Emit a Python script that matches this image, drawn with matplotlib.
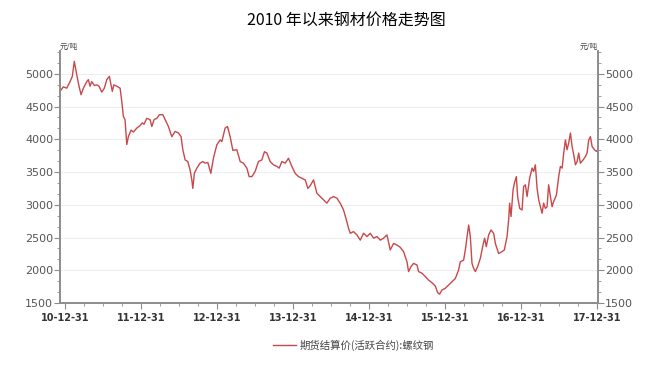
import matplotlib
matplotlib.use("Agg")
import matplotlib.pyplot as plt
import matplotlib.dates as mdates
from matplotlib.ticker import MultipleLocator, AutoMinorLocator, FixedLocator
import numpy as np
import pandas as pd

# time as fractional years counted from 2010-12-31 (= 2011.0)
t = [2010.934, 2010.978, 2011.022, 2011.066, 2011.096, 2011.122, 2011.154, 2011.184,
     2011.211, 2011.241, 2011.286, 2011.307, 2011.329, 2011.351, 2011.386, 2011.417,
     2011.447, 2011.483, 2011.517, 2011.549, 2011.583, 2011.605, 2011.622, 2011.641,
     2011.680, 2011.724, 2011.746, 2011.767, 2011.789, 2011.803, 2011.812, 2011.833,
     2011.868, 2011.899, 2011.943, 2011.987, 2012.017, 2012.039, 2012.075, 2012.118,
     2012.141, 2012.171, 2012.207, 2012.241, 2012.286, 2012.316, 2012.359, 2012.404,
     2012.447, 2012.491, 2012.526, 2012.549, 2012.579, 2012.614, 2012.645, 2012.667,
     2012.680, 2012.701, 2012.733, 2012.776, 2012.812, 2012.842, 2012.878, 2012.917,
     2012.951, 2012.996, 2013.039, 2013.062, 2013.105, 2013.136, 2013.171, 2013.207,
     2013.259, 2013.303, 2013.346, 2013.391, 2013.421, 2013.457, 2013.500, 2013.543,
     2013.588, 2013.622, 2013.654, 2013.697, 2013.741, 2013.786, 2013.816, 2013.851,
     2013.895, 2013.938, 2013.983, 2014.026, 2014.070, 2014.114, 2014.158, 2014.193,
     2014.224, 2014.267, 2014.312, 2014.355, 2014.399, 2014.443, 2014.487, 2014.530,
     2014.575, 2014.618, 2014.662, 2014.693, 2014.728, 2014.750, 2014.793, 2014.838,
     2014.882, 2014.925, 2014.970, 2015.013, 2015.057, 2015.101, 2015.145, 2015.188,
     2015.233, 2015.276, 2015.320, 2015.364, 2015.408, 2015.451, 2015.496, 2015.517,
     2015.549, 2015.583, 2015.628, 2015.649, 2015.693, 2015.737, 2015.780, 2015.825,
     2015.868, 2015.899, 2015.925, 2015.957, 2016.000, 2016.043, 2016.088, 2016.132,
     2016.175, 2016.197, 2016.241, 2016.263, 2016.286, 2016.307, 2016.329, 2016.351,
     2016.372, 2016.395, 2016.425, 2016.461, 2016.491, 2016.517, 2016.539, 2016.570,
     2016.601, 2016.636, 2016.658, 2016.701, 2016.746, 2016.776, 2016.812, 2016.833,
     2016.846, 2016.864, 2016.891, 2016.908, 2016.934, 2016.951, 2016.978, 2017.009,
     2017.030, 2017.053, 2017.075, 2017.109, 2017.141, 2017.162, 2017.184, 2017.207,
     2017.228, 2017.250, 2017.272, 2017.293, 2017.316, 2017.338, 2017.359, 2017.382,
     2017.404, 2017.425, 2017.461, 2017.491, 2017.513, 2017.536, 2017.557, 2017.579,
     2017.601, 2017.622, 2017.645, 2017.667, 2017.688, 2017.711, 2017.733, 2017.754,
     2017.776, 2017.812, 2017.842, 2017.864, 2017.886, 2017.908, 2017.930, 2017.961,
     2017.987, 2018.005]

price = [4730, 4800, 4780, 4880, 4960, 5190, 4985, 4810,
         4680, 4780, 4880, 4910, 4810, 4880, 4820, 4830,
         4810, 4720, 4780, 4910, 4960, 4830, 4730, 4830,
         4810, 4780, 4580, 4350, 4300, 4070, 3920, 4040,
         4140, 4110, 4170, 4210, 4250, 4230, 4320, 4300,
         4195, 4300, 4320, 4375, 4375, 4300, 4195, 4040,
         4120, 4095, 4040, 3840, 3685, 3660, 3530, 3380,
         3250, 3480, 3560, 3635, 3660, 3635, 3645, 3480,
         3710, 3915, 3990, 3965, 4170, 4195, 4040, 3830,
         3840, 3660, 3635, 3560, 3430, 3430, 3510, 3660,
         3685, 3810, 3790, 3660, 3610, 3585, 3560, 3660,
         3635, 3710, 3585, 3480, 3430, 3405, 3380, 3250,
         3290, 3380, 3175, 3125, 3075, 3025, 3100, 3125,
         3100, 3025, 2920, 2795, 2640, 2565, 2590, 2540,
         2460, 2565, 2515, 2565, 2490, 2515, 2460, 2490,
         2540, 2310, 2410, 2385, 2350, 2285, 2130, 1980,
         2055, 2105, 2080, 1980, 1955, 1905, 1850, 1810,
         1760, 1660, 1635, 1700, 1725, 1775, 1825, 1875,
         2005, 2130, 2155, 2310, 2515, 2690, 2515, 2105,
         2030, 1980, 2055, 2185, 2360, 2490, 2360, 2540,
         2615, 2565, 2410, 2255, 2285, 2310, 2515, 2770,
         3025, 2820, 3225, 3330, 3430, 3125, 2945, 2920,
         3280, 3305, 3125, 3405, 3560, 3510, 3610, 3250,
         3075, 2970, 2870, 3025, 2945, 2970, 3305, 3125,
         2970, 3050, 3150, 3430, 3585, 3560, 3790, 3990,
         3840, 3940, 4095, 3890, 3765, 3610, 3660, 3790,
         3635, 3685, 3735, 3790, 3990, 4040, 3890, 3840,
         3815, 3840]

year_ends = ["2010-12-31", "2011-12-31", "2012-12-31", "2013-12-31",
             "2014-12-31", "2015-12-31", "2016-12-31", "2017-12-31"]

title = "2010 年以来钢材价格走势图"
series_name = "期货结算价(活跃合约):螺纹钢"
unit = "元/吨"

cjk = ["Noto Sans CJK SC", "DejaVu Sans"]

base = pd.Timestamp("2010-12-31")
dates = base + pd.to_timedelta((np.array(t) - 2011.0) * 365.25, unit="D")

fig = plt.figure(figsize=(6.67, 3.88), dpi=100)
ax = fig.add_axes([0.090, 0.219, 0.807, 0.650])

line_color = "#C8484B"
spine_color = "#8C8C8C"
label_color = "#555555"

ax.plot(dates, price, color=line_color, lw=1.0, label=series_name)

ax.set_xlim(pd.Timestamp("2010-12-07"), pd.Timestamp("2018-01-04"))
ax.set_ylim(1500, 5350)

ax.yaxis.set_major_locator(FixedLocator([1500, 2000, 2500, 3000, 3500, 4000, 4500, 5000]))
ax.yaxis.set_minor_locator(AutoMinorLocator(3))
ax.grid(axis="y", which="major", color="#EEEEEE", lw=0.8)
ax.set_axisbelow(True)

ticks = pd.to_datetime(year_ends)
ax.set_xticks(ticks)
ax.set_xticklabels([d.strftime("%y-%m-%d") for d in ticks], fontsize=7, fontweight="bold", color="#333333")
quarters = pd.date_range("2010-12-31", "2017-12-31", freq="QE")
ax.xaxis.set_minor_locator(FixedLocator(mdates.date2num(quarters)))

for s in ["top"]:
    ax.spines[s].set_visible(False)
for s in ["left", "right", "bottom"]:
    ax.spines[s].set_color(spine_color)
    ax.spines[s].set_linewidth(1.2)

ax.tick_params(axis="y", which="major", length=4, color=spine_color, labelsize=8, labelcolor=label_color, pad=1)
ax.tick_params(axis="y", which="minor", length=2.5, color=spine_color)
ax.tick_params(axis="x", which="major", length=4, color=spine_color, pad=3)
ax.tick_params(axis="x", which="minor", length=2.5, color=spine_color)

# right axis mirrors the left one
ax2 = ax.twinx()
ax2.set_ylim(ax.get_ylim())
ax2.yaxis.set_major_locator(FixedLocator([1500, 2000, 2500, 3000, 3500, 4000, 4500, 5000]))
ax2.yaxis.set_minor_locator(AutoMinorLocator(3))
ax2.spines["top"].set_visible(False)
for s in ["left", "right", "bottom"]:
    ax2.spines[s].set_color(spine_color)
    ax2.spines[s].set_linewidth(1.2)
ax2.tick_params(axis="y", which="major", length=4, color=spine_color, labelsize=8, labelcolor=label_color, pad=1)
ax2.tick_params(axis="y", which="minor", length=2.5, color=spine_color)

ax.text(0.0, 1.0, unit, transform=ax.transAxes, ha="left", va="bottom",
        fontsize=5.5, color="#444444", family=cjk)
ax.text(1.0, 1.0, unit, transform=ax.transAxes, ha="right", va="bottom",
        fontsize=5.5, color="#444444", family=cjk)

fig.text(0.52, 0.945, title, ha="center", va="center", fontsize=11.5, color="black", family=cjk)

leg = fig.legend(loc="center", bbox_to_anchor=(0.53, 0.11), frameon=False,
                 prop={"family": cjk, "size": 7.5}, handlelength=2.2, handletextpad=0.3)
for txt in leg.get_texts():
    txt.set_color("#444444")

fig.savefig("out.png", dpi=100)
